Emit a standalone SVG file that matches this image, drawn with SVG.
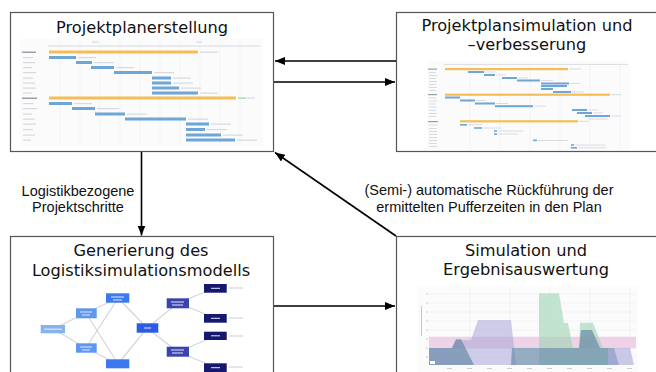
<svg xmlns="http://www.w3.org/2000/svg" width="656" height="372" viewBox="0 0 656 372">
<defs>
<marker id="ah" viewBox="0 0 10 8" refX="10" refY="4" markerWidth="10" markerHeight="8" markerUnits="userSpaceOnUse" orient="auto"><path d="M0,0 L10,4 L0,8 Z" fill="#000"/></marker>
</defs>
<style>
.box{fill:#fff;stroke:#555;stroke-width:1.2}
.title{font-family:"DejaVu Sans",sans-serif;font-size:16.2px;fill:#111;text-anchor:middle}
.lbl{font-family:"Liberation Sans",Arial,sans-serif;font-size:14.5px;fill:#111;text-anchor:middle}
.con{stroke:#000;stroke-width:1.6;fill:none;marker-end:url(#ah)}
.gbg{fill:#fbfbfc}
.grid{stroke:#eceef2;stroke-width:0.6}
.or{fill:#f4bd55}
.bl{fill:#6ea6d6}
.tl{fill:#d6d9de}
.tlb{fill:#9aa0a8}
.edge{stroke:#d3d6dc;stroke-width:1.2;fill:none}
</style>

<g id="node-projektplanerstellung">
<rect class="box" x="10.5" y="12.5" width="263" height="139"/>
<text class="title" x="142" y="33">Projektplanerstellung</text>
<g id="gantt1">
<rect class="gbg" x="20" y="39" width="243" height="107"/>
<g class="grid">
<line x1="60" y1="41" x2="60" y2="144"/><line x1="80" y1="41" x2="80" y2="144"/><line x1="100" y1="41" x2="100" y2="144"/><line x1="120" y1="41" x2="120" y2="144"/><line x1="140" y1="41" x2="140" y2="144"/><line x1="160" y1="41" x2="160" y2="144"/><line x1="180" y1="41" x2="180" y2="144"/><line x1="200" y1="41" x2="200" y2="144"/><line x1="220" y1="41" x2="220" y2="144"/><line x1="240" y1="41" x2="240" y2="144"/>
</g>
<rect class="tl" x="48" y="45.5" width="212" height="1"/>
<rect class="tl" x="92" y="41.5" width="6" height="1.2"/>
<rect class="tl" x="196" y="41.5" width="6" height="1.2"/>
<rect class="tlb" x="22" y="51.5" width="14" height="1.5"/>
<rect class="tl" x="23" y="57" width="10" height="1.2"/>
<rect class="tl" x="23" y="62" width="12" height="1.2"/>
<rect class="tl" x="23" y="67" width="9" height="1.2"/>
<rect class="tl" x="23" y="72" width="13" height="1.2"/>
<rect class="tl" x="23" y="77.5" width="10" height="1.2"/>
<rect class="tl" x="23" y="82.5" width="12" height="1.2"/>
<rect class="tl" x="23" y="87.5" width="13" height="1.2"/>
<rect class="tl" x="23" y="92.5" width="9" height="1.2"/>
<rect class="tlb" x="22" y="97.5" width="15" height="1.5"/>
<rect class="tl" x="23" y="103" width="10" height="1.2"/>
<rect class="tl" x="23" y="108" width="14" height="1.2"/>
<rect class="tl" x="23" y="113.5" width="9" height="1.2"/>
<rect class="tl" x="23" y="118.5" width="12" height="1.2"/>
<rect class="tl" x="23" y="123.5" width="13" height="1.2"/>
<rect class="tl" x="23" y="129" width="10" height="1.2"/>
<rect class="tl" x="23" y="134.5" width="12" height="1.2"/>
<rect class="tl" x="23" y="139.5" width="8" height="1.2"/>
<rect class="or" x="49" y="50.5" width="149" height="3"/><rect class="tl" x="200" y="51.5" width="18" height="1.2"/>
<rect class="bl" x="49" y="56" width="27" height="3"/><rect class="tl" x="78" y="57" width="18" height="1.2"/>
<rect class="bl" x="76" y="61" width="16" height="3"/><rect class="tl" x="94" y="62" width="20" height="1.2"/>
<rect class="bl" x="91" y="66" width="23" height="3"/><rect class="tl" x="116" y="67" width="18" height="1.2"/>
<rect class="bl" x="114" y="71" width="38" height="3"/><rect class="tl" x="154" y="72" width="20" height="1.2"/>
<rect class="bl" x="152" y="76.5" width="19" height="3"/><rect class="tl" x="173" y="77.5" width="18" height="1.2"/>
<rect class="bl" x="152" y="81.5" width="19" height="3"/><rect class="tl" x="173" y="82.5" width="20" height="1.2"/>
<rect class="bl" x="152" y="86.5" width="27" height="3"/><rect class="tl" x="181" y="87.5" width="20" height="1.2"/>
<rect class="bl" x="152" y="91.5" width="46" height="3"/><rect class="tl" x="200" y="92.5" width="18" height="1.2"/>
<rect class="or" x="49" y="96.5" width="187" height="3"/><rect fill="#9fd0a0" x="238" y="97.5" width="8" height="1.2"/><rect class="tl" x="247" y="97.5" width="8" height="1.2"/>
<rect class="bl" x="49" y="102" width="23" height="3"/><rect class="tl" x="74" y="103" width="18" height="1.2"/>
<rect class="bl" x="72" y="107" width="23" height="3"/><rect class="tl" x="97" y="108" width="22" height="1.2"/>
<rect class="bl" x="95" y="112.5" width="30" height="3"/><rect class="tl" x="127" y="113.5" width="20" height="1.2"/>
<rect class="bl" x="125" y="117.5" width="61" height="3"/><rect class="tl" x="188" y="118.5" width="20" height="1.2"/>
<rect class="bl" x="186" y="122.5" width="23" height="3"/><rect class="tl" x="211" y="123.5" width="20" height="1.2"/>
<rect class="bl" x="186" y="128" width="19" height="3"/><rect class="tl" x="207" y="129" width="20" height="1.2"/>
<rect class="bl" x="186" y="133.5" width="35" height="3"/><rect class="tl" x="223" y="134.5" width="20" height="1.2"/>
<rect class="bl" x="186" y="138.5" width="49" height="3"/><rect class="tl" x="237" y="139.5" width="20" height="1.2"/>
</g>
</g>

<g id="node-projektplansimulation">
<rect class="box" x="396.5" y="12.5" width="264" height="139"/>
<text class="title" x="527" y="31">Projektplansimulation und</text>
<text class="title" x="527" y="50">–verbesserung</text>
<g id="gantt2">
<rect class="gbg" x="427" y="61" width="203" height="89"/>
<g class="grid">
<line x1="470" y1="62" x2="470" y2="149"/><line x1="500" y1="62" x2="500" y2="149"/><line x1="530" y1="62" x2="530" y2="149"/><line x1="560" y1="62" x2="560" y2="149"/><line x1="590" y1="62" x2="590" y2="149"/><line x1="620" y1="62" x2="620" y2="149"/>
</g>
<rect class="tl" x="444" y="64" width="184" height="0.8"/>
<rect class="tlb" x="428" y="68.5" width="9" height="1.2"/>
<rect class="tl" x="429" y="72" width="7" height="1"/><rect class="tl" x="429" y="75" width="8" height="1"/><rect class="tl" x="429" y="78" width="7" height="1"/><rect class="tl" x="429" y="81" width="8" height="1"/><rect class="tl" x="429" y="84" width="7" height="1"/><rect class="tl" x="429" y="87" width="8" height="1"/><rect class="tl" x="429" y="90" width="7" height="1"/>
<rect class="tlb" x="428" y="94" width="9" height="1.2"/>
<rect class="tl" x="429" y="97.5" width="7" height="1"/><rect class="tl" x="429" y="100.5" width="8" height="1"/><rect class="tl" x="429" y="103.5" width="7" height="1"/><rect class="tl" x="429" y="106.5" width="8" height="1"/><rect class="tl" x="429" y="110" width="7" height="1"/><rect class="tl" x="429" y="113" width="8" height="1"/><rect class="tl" x="429" y="116" width="7" height="1"/>
<rect class="tlb" x="428" y="121" width="10" height="1.2"/>
<rect class="tl" x="429" y="124.5" width="8" height="1"/><rect class="tl" x="429" y="128" width="8" height="1"/><rect class="tl" x="429" y="131" width="8" height="1"/><rect class="tl" x="429" y="134" width="8" height="1"/><rect class="tl" x="429" y="137" width="8" height="1"/><rect class="tl" x="429" y="140" width="8" height="1"/><rect class="tl" x="429" y="143" width="8" height="1"/><rect class="tl" x="429" y="146" width="8" height="1"/>
<rect class="or" x="445" y="68" width="123" height="2.2"/><rect class="tl" x="569" y="68.5" width="12" height="1"/>
<rect class="bl" x="468" y="71" width="16" height="2"/><rect class="tl" x="485" y="71.5" width="10" height="0.9"/>
<rect class="bl" x="484" y="74" width="11" height="2"/><rect class="tl" x="496" y="74.5" width="10" height="0.9"/>
<rect class="bl" x="502" y="77" width="15" height="2"/><rect class="tl" x="518" y="77.5" width="10" height="0.9"/>
<rect class="bl" x="517" y="79.5" width="23" height="2"/><rect class="tl" x="541" y="80" width="12" height="0.9"/>
<rect class="bl" x="541" y="82.5" width="28" height="2"/><rect class="tl" x="570" y="83" width="10" height="0.9"/>
<rect class="bl" x="541" y="85" width="26" height="2"/>
<rect class="bl" x="541" y="88" width="12" height="2"/>
<rect class="bl" x="553" y="91" width="18" height="2"/><rect class="tl" x="572" y="91.5" width="12" height="0.9"/>
<rect class="or" x="445" y="93.6" width="165" height="2.2"/><rect class="tl" x="611" y="94.2" width="10" height="1"/>
<rect class="bl" x="445" y="96.5" width="15" height="2"/>
<rect class="bl" x="460" y="99.5" width="15" height="2"/><rect class="tl" x="476" y="100" width="10" height="0.9"/>
<rect class="bl" x="475" y="102.5" width="20" height="2"/><rect class="tl" x="496" y="103" width="12" height="0.9"/>
<rect class="bl" x="495" y="105.2" width="38" height="2"/><rect class="tl" x="534" y="105.7" width="12" height="0.9"/>
<rect class="bl" x="572" y="109" width="15" height="2"/><rect class="tl" x="588" y="109.5" width="10" height="0.9"/>
<rect class="bl" x="577" y="112" width="15" height="2"/><rect class="tl" x="593" y="112.5" width="10" height="0.9"/>
<rect class="bl" x="585" y="115" width="25" height="2"/><rect class="tl" x="611" y="115.5" width="10" height="0.9"/>
<rect class="tl" x="588" y="118.5" width="20" height="1"/>
<rect class="or" x="460" y="120.2" width="118" height="2.2"/><rect class="tl" x="579" y="120.8" width="10" height="1"/>
<rect class="bl" x="460" y="124" width="7" height="1.6"/><rect class="tl" x="468" y="124.4" width="14" height="0.9"/>
<rect class="bl" x="474" y="127.2" width="8" height="1.6"/><rect class="tl" x="483" y="127.6" width="18" height="0.9"/>
<rect class="bl" x="494" y="130.2" width="3" height="1.6"/><rect class="tl" x="498" y="130.6" width="25" height="0.9"/>
<rect class="bl" x="494" y="133.2" width="3" height="1.6"/><rect class="tl" x="498" y="133.6" width="20" height="0.9"/>
<rect class="bl" x="533" y="139.6" width="4" height="1.6"/><rect class="tl" x="538" y="140" width="30" height="0.9"/>
<rect class="bl" x="571" y="144.2" width="3" height="1.6"/><rect class="tl" x="575" y="144.6" width="30" height="0.9"/>
<rect class="bl" x="571" y="147" width="6" height="1.6"/><rect class="tl" x="578" y="147.4" width="28" height="0.9"/>
</g>
</g>

<g id="node-generierung">
<rect class="box" x="10.5" y="236.5" width="263" height="140"/>
<text class="title" x="141" y="256">Generierung des</text>
<text class="title" x="141" y="275.5">Logistiksimulationsmodells</text>
<g id="network">
<g class="edge">
<line x1="53" y1="329" x2="86" y2="313"/><line x1="53" y1="329" x2="86" y2="348"/>
<line x1="86" y1="313" x2="118" y2="298"/><line x1="86" y1="313" x2="118" y2="364"/>
<line x1="86" y1="348" x2="118" y2="298"/><line x1="86" y1="348" x2="118" y2="364"/>
<line x1="118" y1="298" x2="147" y2="328"/><line x1="118" y1="364" x2="147" y2="328"/>
<line x1="147" y1="328" x2="178" y2="303"/><line x1="147" y1="328" x2="178" y2="352"/>
<line x1="178" y1="303" x2="215" y2="288"/><line x1="178" y1="303" x2="215" y2="318"/>
<line x1="178" y1="352" x2="215" y2="336"/><line x1="178" y1="352" x2="215" y2="367"/>
<line x1="229" y1="288" x2="243" y2="288"/><line x1="229" y1="318" x2="243" y2="318"/><line x1="229" y1="336" x2="243" y2="336"/><line x1="229" y1="367" x2="243" y2="367"/>
</g>
<rect x="40.7" y="325" width="24.3" height="8.3" fill="#84b3ee"/>
<rect x="76" y="308.3" width="20.7" height="10" fill="#5d97ef"/>
<rect x="76" y="343.3" width="20.7" height="9.4" fill="#5d97ef"/>
<rect x="106" y="293.3" width="23.3" height="9.4" fill="#3d79ee"/>
<rect x="106" y="359.3" width="23.3" height="9" fill="#3d79ee"/>
<rect x="136.7" y="323.3" width="21.6" height="9.4" fill="#2c5ce6"/>
<rect x="166.7" y="298.3" width="22.3" height="10" fill="#3b44ad"/>
<rect x="166.7" y="346.7" width="22.3" height="10" fill="#3b44ad"/>
<rect x="204" y="284" width="22.7" height="8.7" fill="#15186e"/>
<rect x="204" y="314" width="22.7" height="8.7" fill="#15186e"/>
<rect x="204" y="331.7" width="22.7" height="8.3" fill="#15186e"/>
<rect x="204" y="363.3" width="22.7" height="8.7" fill="#15186e"/>
<g fill="#dfe8f8">
<rect x="44" y="328.6" width="18" height="1.2"/>
<rect x="80" y="311.5" width="12" height="1"/><rect x="82" y="314.5" width="8" height="1"/>
<rect x="80" y="346.5" width="12" height="1"/><rect x="82" y="349.5" width="8" height="1"/>
<rect x="111" y="296.5" width="13" height="1"/><rect x="113" y="299.5" width="9" height="1"/>
<rect x="144" y="327.5" width="7" height="1"/>
<rect x="171" y="301.5" width="13" height="1"/><rect x="172" y="304.5" width="11" height="1"/>
<rect x="171" y="349.5" width="13" height="1"/><rect x="172" y="352.5" width="11" height="1"/>
<rect x="211" y="287.8" width="9" height="1"/><rect x="211" y="317.8" width="9" height="1"/><rect x="211" y="335.3" width="9" height="1"/><rect x="211" y="367.2" width="9" height="1"/>
</g>
</g>
</g>

<g id="node-simulation">
<rect class="box" x="396.5" y="236.5" width="264" height="140"/>
<text class="title" x="526" y="256">Simulation und</text>
<text class="title" x="526" y="275">Ergebnisauswertung</text>
<g id="chart">
<rect class="gbg" x="418" y="286" width="220" height="86"/>
<g class="grid">
<line x1="429" y1="294" x2="636" y2="294"/><line x1="429" y1="303" x2="636" y2="303"/><line x1="429" y1="312" x2="636" y2="312"/><line x1="429" y1="321" x2="636" y2="321"/><line x1="429" y1="330" x2="636" y2="330"/><line x1="429" y1="339" x2="636" y2="339"/><line x1="429" y1="348" x2="636" y2="348"/><line x1="429" y1="357" x2="636" y2="357"/>
<line x1="470" y1="288" x2="470" y2="365"/><line x1="510" y1="288" x2="510" y2="365"/><line x1="550" y1="288" x2="550" y2="365"/><line x1="590" y1="288" x2="590" y2="365"/><line x1="630" y1="288" x2="630" y2="365"/>
</g>
<rect x="429" y="336.7" width="207" height="11.6" fill="#e9c6e0" opacity="0.75"/>
<path d="M429,348 L452,348 L456,340 L471,340 L478,320 L511,320 L516,365 L429,365 Z" fill="#a9a6d8" opacity="0.55"/>
<path d="M539,365 L539,293.3 L559,293.3 L564,323 L568,323 L573,348 L579,348 L580,322.7 L593,322.7 L603,348 L608,348 L608,365 Z" fill="#9fd4b4" opacity="0.6"/>
<path d="M429,365 L429,348 L452,348 L456,339.3 L461,339.3 L474,365 Z" fill="#6a8aa8" opacity="0.7"/>
<path d="M511,365 L512,348 L579,348 L581,330 L592,330 L600,348 L614,348 L619,365 Z" fill="#6a8aa8" opacity="0.7"/>
<path d="M608,365 L608,348 L630,348 L634,365 Z" fill="#a9a6d8" opacity="0.6"/>
<rect x="430" y="361" width="5" height="3" fill="#fff"/>
<rect x="421" y="306" width="1" height="30" fill="#c4c8d0"/>
<g fill="#c8ccd4">
<rect x="426" y="293.5" width="2" height="1"/><rect x="426" y="302.5" width="2" height="1"/><rect x="426" y="311.5" width="2" height="1"/><rect x="426" y="320.5" width="2" height="1"/><rect x="426" y="329.5" width="2" height="1"/><rect x="426" y="338.5" width="2" height="1"/><rect x="426" y="347.5" width="2" height="1"/><rect x="426" y="356.5" width="2" height="1"/>
<rect x="447" y="368" width="5" height="1"/><rect x="467" y="368" width="5" height="1"/><rect x="487" y="368" width="5" height="1"/><rect x="507" y="368" width="5" height="1"/><rect x="527" y="368" width="5" height="1"/><rect x="547" y="368" width="5" height="1"/><rect x="567" y="368" width="5" height="1"/><rect x="587" y="368" width="5" height="1"/><rect x="607" y="368" width="5" height="1"/><rect x="627" y="368" width="5" height="1"/>
</g>
</g>
</g>

<g id="connectors">
<line class="con" x1="396" y1="61" x2="275" y2="61"/>
<line class="con" x1="274" y1="82" x2="395" y2="82"/>
<line class="con" x1="141.5" y1="152" x2="141.5" y2="235.5"/>
<line class="con" x1="274" y1="306" x2="395" y2="306"/>
<line class="con" x1="396" y1="236" x2="275" y2="152.5"/>
</g>

<g id="labels">
<text class="lbl" x="78" y="196">Logistikbezogene</text>
<text class="lbl" x="78" y="212">Projektschritte</text>
<text class="lbl" x="489" y="195">(Semi-) automatische Rückführung der</text>
<text class="lbl" x="489" y="212">ermittelten Pufferzeiten in den Plan</text>
</g>
</svg>
